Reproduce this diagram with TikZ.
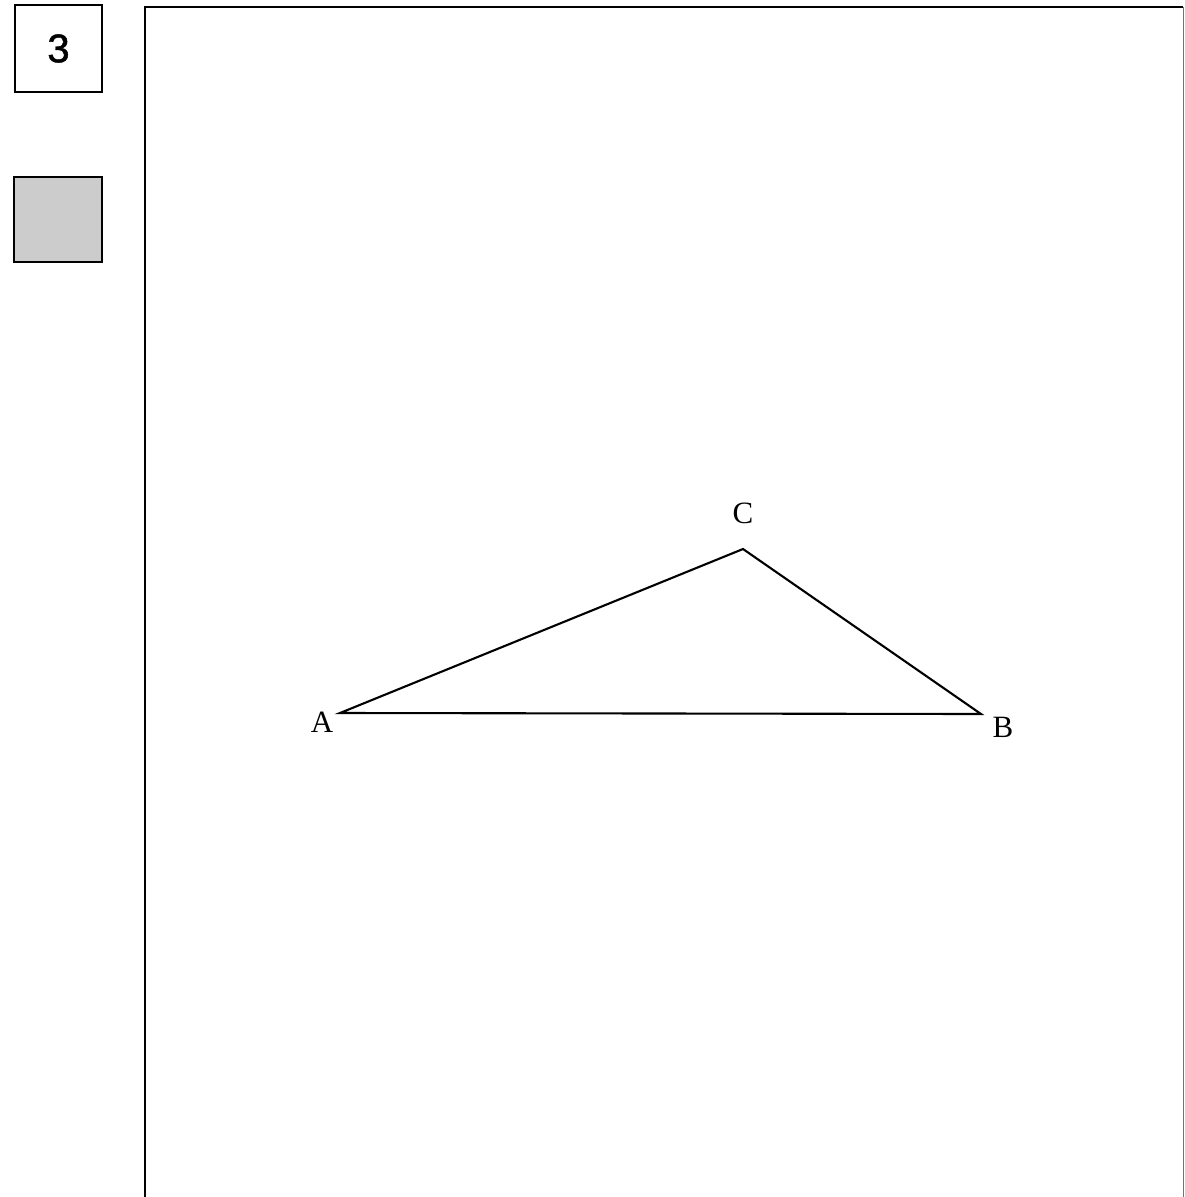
\documentclass[tikz,border=0pt]{standalone}
\usepackage{fontspec}
\setmainfont{Liberation Serif}
\newfontfamily\numfont[FakeBold=1.2]{Liberation Sans}
\begin{document}
\begin{tikzpicture}[x=1pt,y=-1pt,
  edge/.style={line width=2.1pt,line join=miter},
  frame/.style={line width=2pt},
  lbl/.style={font=\fontsize{31}{33}\selectfont,inner sep=0pt}]
\useasboundingbox (0,0) rectangle (1185,1197);
% number box
\node[draw,line width=1.8pt,minimum width=87pt,minimum height=87pt,inner sep=0pt,
  font=\numfont\fontsize{40}{42}\selectfont] (num) at (58.5,48.5) {3};
% gray box
\node[draw,line width=1.8pt,fill=black!20,minimum width=88pt,minimum height=85pt,inner sep=0pt] (gray) at (58,219.5) {};
% main frame
\draw[frame] (145,1200) -- (145,7) -- (1183,7);
\draw[line width=0.8pt,black!55] (1183,7) -- (1183,1200);
% triangle
\coordinate (A) at (340,713);
\coordinate (B) at (981,714);
\coordinate (C) at (743,549);
\draw[edge] (A) -- (C) -- (B) -- cycle;
\node[lbl] (la) at (322,722) {A};
\node[lbl] (lb) at (1003,727) {B};
\node[lbl] (lc) at (743,513) {C};
\end{tikzpicture}
\end{document}
